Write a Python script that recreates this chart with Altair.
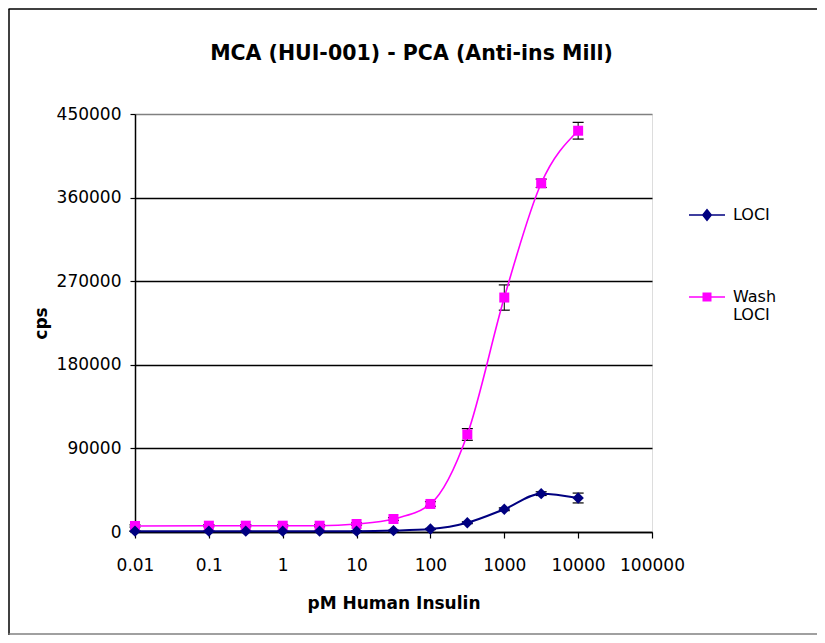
import altair as alt
import pandas as pd

# ---- data ----
conc = [0.01, 0.1, 0.316, 1, 3.16, 10, 31.6, 100, 316, 1000, 3160, 10000]
loci = [900, 900, 900, 900, 900, 900, 1500, 3200, 10000, 24500, 41300, 36600]
loci_err = [300, 300, 300, 300, 300, 300, 400, 600, 1000, 1500, 2000, 5300]
wash = [6500, 6800, 6800, 6800, 6800, 8600, 14000, 30200, 105000, 252400, 375400, 432000]
wash_err = [1200, 1200, 1200, 1200, 1200, 1200, 1500, 2500, 6300, 13600, 4500, 9000]

series_names = ["LOCI", "Wash LOCI"]
series_colors = ["#000080", "#FF00FF"]
x_ticks = [0.01, 0.1, 1, 10, 100, 1000, 10000, 100000]
y_ticks = [0, 90000, 180000, 270000, 360000, 450000]

rows = []
for c, v, e in zip(conc, loci, loci_err):
    rows.append({"series": "LOCI", "conc": c, "cps": v, "lo": v - e, "hi": v + e})
for c, v, e in zip(conc, wash, wash_err):
    rows.append({"series": "Wash LOCI", "conc": c, "cps": v, "lo": v - e, "hi": v + e})
df = pd.DataFrame(rows)

FONT = "DejaVu Sans"

xscale = alt.Scale(type="log", domain=[0.01, 100000], nice=False)
yscale = alt.Scale(domain=[0, 450000], nice=False, zero=True)

x_enc = alt.X(
    "conc:Q", scale=xscale,
    axis=alt.Axis(
        values=x_ticks, format="~g", title="pM Human Insulin", grid=False,
        domainColor="black", domainWidth=1.5, tickColor="black", tickSize=6, tickWidth=1.2,
        labelFont=FONT, labelFontSize=17, labelColor="black", labelPadding=19,
        labelFlush=False, labelOverlap=False,
        titleFont=FONT, titleFontSize=17, titleFontWeight="bold", titleColor="black",
        titleY=76, titleBaseline="alphabetic",
    ),
)
y_enc = alt.Y(
    "cps:Q", scale=yscale,
    axis=alt.Axis(
        values=y_ticks, format="d", title="cps",
        grid=True,
        gridColor={"condition": {"test": "datum.value >= 450000", "value": "#808080"}, "value": "black"},
        gridWidth=1.3,
        domainColor="black", domainWidth=1.5, tickColor="black", tickSize=5, tickWidth=1.2,
        labelFont=FONT, labelFontSize=17, labelColor="black", labelPadding=9,
        titleFont=FONT, titleFontSize=17, titleFontWeight="bold", titleColor="black",
        titleX=-94, titleY=209, titleAngle=-90, titleAlign="center", titleBaseline="middle",
    ),
)

base = alt.Chart(df)

layers = []
# error bars
for name in series_names:
    sub = base.transform_filter(alt.datum.series == name)
    layers.append(sub.mark_rule(color="black", strokeWidth=1).encode(
        x=x_enc, y=alt.Y("lo:Q", scale=yscale), y2="hi:Q"))
    layers.append(sub.mark_tick(orient="horizontal", color="black", size=11, thickness=1.2, opacity=1).encode(
        x=alt.X("conc:Q", scale=xscale), y=alt.Y("lo:Q", scale=yscale)))
    layers.append(sub.mark_tick(orient="horizontal", color="black", size=11, thickness=1.2, opacity=1).encode(
        x=alt.X("conc:Q", scale=xscale), y=alt.Y("hi:Q", scale=yscale)))

# lines
layers.append(base.transform_filter(alt.datum.series == "Wash LOCI").mark_line(
    color="#FF00FF", strokeWidth=1.6, interpolate="monotone").encode(x=x_enc, y=y_enc))
layers.append(base.transform_filter(alt.datum.series == "LOCI").mark_line(
    color="#000080", strokeWidth=2, interpolate="monotone").encode(x=x_enc, y=y_enc))

# markers
layers.append(base.transform_filter(alt.datum.series == "Wash LOCI").mark_point(
    shape="square", filled=True, size=100, color="#FF00FF", opacity=1).encode(x=x_enc, y=y_enc))
layers.append(base.transform_filter(alt.datum.series == "LOCI").mark_point(
    shape="diamond", filled=True, size=130, color="#000080", opacity=1).encode(x=x_enc, y=y_enc))

# legend (no marks drawn; symbols from scales)
diamond_path = "M-1,-0.045L1,-0.045L1,0.045L-1,0.045Z M0,-0.36L0.29,0L0,0.36L-0.29,0Z"
square_path = "M-1,-0.045L1,-0.045L1,0.045L-1,0.045Z M-0.25,-0.25L0.25,-0.25L0.25,0.25L-0.25,0.25Z"
leg = alt.Legend(
    title=None, orient="none", legendX=554, legendY=83, padding=0,
    symbolSize=1296, symbolStrokeWidth=0, symbolOpacity=1,
    labelFont=FONT, labelFontSize=16, labelColor="black", labelOffset=8, labelLimit=0,
    labelExpr="datum.label == 'Wash LOCI' ? ['Wash', 'LOCI'] : datum.label",
    rowPadding=56,
)
layers.append(base.transform_filter("false").mark_point(filled=True, opacity=1).encode(
    x=alt.X("conc:Q", scale=xscale), y=alt.Y("cps:Q", scale=yscale),
    color=alt.Color("series:N", scale=alt.Scale(domain=series_names, range=series_colors), legend=leg),
    shape=alt.Shape("series:N", scale=alt.Scale(domain=series_names, range=[diamond_path, square_path]), legend=leg),
))

# outer frame (left / top black, bottom gray)
frame_df = pd.DataFrame({"a": [0]})
fr = alt.Chart(frame_df)
layers.append(fr.mark_rule(color="black", strokeWidth=1.5).encode(
    x=alt.value(-126), y=alt.value(-105), y2=alt.value(521)))
layers.append(fr.mark_rule(color="black", strokeWidth=1.5).encode(
    x=alt.value(-126.5), x2=alt.value(682), y=alt.value(-105)))
layers.append(fr.mark_rule(color="#808080", strokeWidth=1.5).encode(
    x=alt.value(-126.5), x2=alt.value(682), y=alt.value(520)))

chart = alt.layer(*layers).properties(
    width=517, height=418,
    autosize=alt.AutoSizeParams(type="none"),
    padding={"left": 127, "top": 106, "right": 165, "bottom": 103},
    title=alt.TitleParams(
        "MCA (HUI-001) - PCA (Anti-ins Mill)", font=FONT, fontSize=20.5, fontWeight="bold",
        color="black", anchor="middle", frame="group", dx=18, offset=-71.75, baseline="alphabetic",
    ),
).configure_view(stroke="#808080", strokeWidth=2).configure(background="white")

chart.save("out.html", embed_options={"renderer": "svg", "actions": False})
